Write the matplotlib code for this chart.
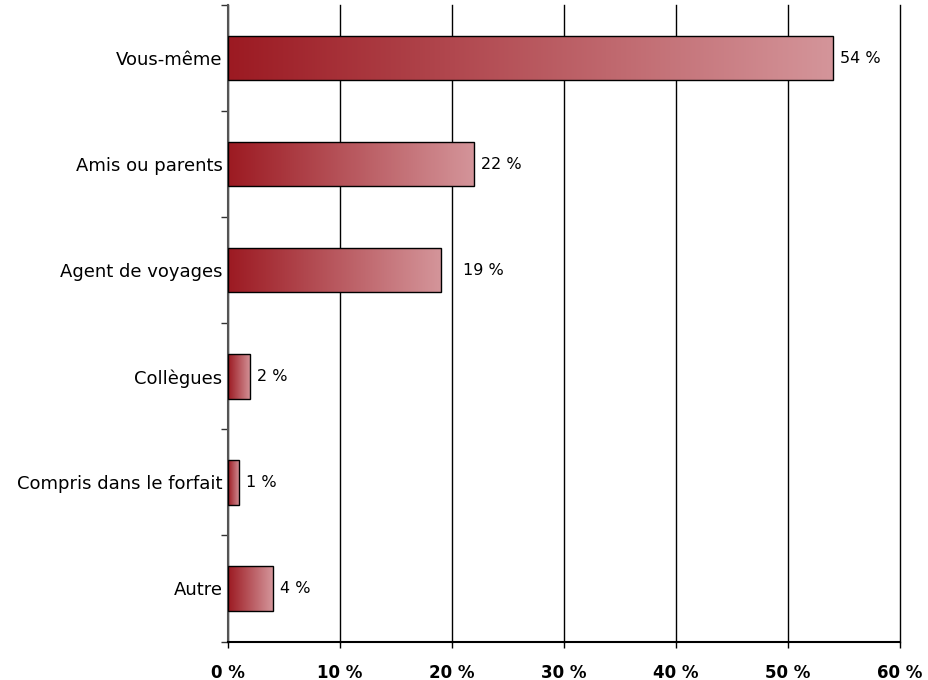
import numpy as np
import matplotlib
matplotlib.use("Agg")
import matplotlib.pyplot as plt
from matplotlib.colors import LinearSegmentedColormap
from matplotlib.patches import Rectangle

categories = ["Vous-même", "Amis ou parents", "Agent de voyages",
              "Collègues", "Compris dans le forfait", "Autre"]
values = [54, 22, 19, 2, 1, 4]
xticks = [0, 10, 20, 30, 40, 50, 60]
xtick_labels = ["0 %", "10 %", "20 %", "30 %", "40 %", "50 %", "60 %"]

fig = plt.figure(figsize=(9.29, 6.8), dpi=100)
ax = fig.add_axes([228 / 929, 1 - 641.5 / 680, 672 / 929, 636.5 / 680])

cmap = LinearSegmentedColormap.from_list("bar_grad", ["#9c1a22", "#d4959a"])
grad = np.linspace(0, 1, 256).reshape(1, -1)

n = len(categories)
ypos = np.arange(n)
bar_h = 0.42

for y, v in zip(ypos, values):
    rect = Rectangle((0, y - bar_h / 2), v, bar_h, facecolor="none",
                     edgecolor="black", linewidth=1.0, zorder=4)
    ax.add_patch(rect)
    im = ax.imshow(grad, cmap=cmap, aspect="auto", interpolation="bilinear",
                   extent=(0, v, y + bar_h / 2, y - bar_h / 2), zorder=3)
    im.set_clip_path(rect)
    offset = 2.0 if v == 19 else 0.6
    ax.text(v + offset, y, f"{v} %", va="center", ha="left",
            fontsize=11.5, family="DejaVu Sans", color="black")

ax.set_xlim(0, 60)
ax.set_ylim(n - 0.5, -0.5)

ax.set_xticks(xticks)
ax.set_xticklabels(xtick_labels, fontweight="bold", fontsize=12,
                   family="DejaVu Sans")
ax.tick_params(axis="x", direction="out", length=4, width=1, pad=12)

ax.set_yticks(ypos)
ax.set_yticklabels(categories, fontsize=13, family="DejaVu Sans")
ax.tick_params(axis="y", which="major", length=0, pad=4)
ax.set_yticks(np.arange(-0.5, n, 1), minor=True)
ax.tick_params(axis="y", which="minor", direction="out", length=5, width=1,
               color="#333333")

ax.grid(axis="x", color="black", linewidth=1.0, zorder=1)
for gl in ax.get_xgridlines():
    gl.set_clip_on(False)
ax.set_axisbelow(True)
for s in ["top", "right"]:
    ax.spines[s].set_visible(False)
ax.spines["left"].set_color("#555555")
ax.spines["left"].set_linewidth(1.5)
ax.spines["bottom"].set_linewidth(1.5)

fig.savefig("out.png", dpi=100)
